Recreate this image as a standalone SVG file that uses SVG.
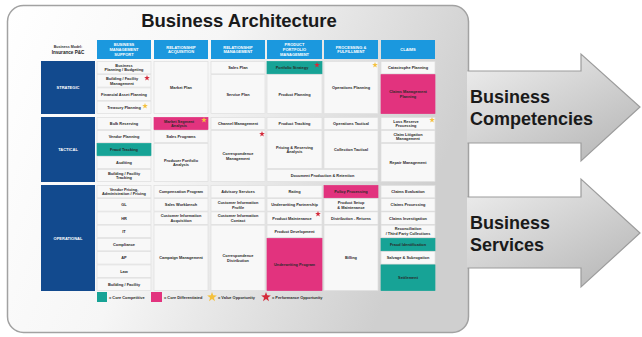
<svg xmlns="http://www.w3.org/2000/svg" xmlns:xlink="http://www.w3.org/1999/xlink" width="642" height="337" viewBox="0 0 642 337">
<defs>
<linearGradient id="panelG" x1="0" y1="0" x2="1" y2="0.3">
<stop offset="0" stop-color="#ffffff"/>
<stop offset="0.45" stop-color="#f6f6f6"/>
<stop offset="1" stop-color="#cfcfcf"/>
</linearGradient>
<linearGradient id="arrowG" x1="0" y1="0" x2="0.8" y2="1">
<stop offset="0" stop-color="#efefef"/>
<stop offset="1" stop-color="#b9b9b9"/>
</linearGradient>
<polygon id="star" points="0,-3 0.71,-0.97 2.85,-0.93 1.14,0.37 1.76,2.43 0,1.2 -1.76,2.43 -1.14,0.37 -2.85,-0.93 -0.71,-0.97"/>
</defs>
<style>
text{font-family:"Liberation Sans",Arial,sans-serif;}
.cell rect{fill:#f8f8f8;stroke:#dedede;stroke-width:0.7;}
.cell text{font-size:3.9px;font-weight:bold;fill:#2a2a2a;text-anchor:middle;}
.cell rect.teal{fill:#17a396;stroke:#17a396;}
.cell rect.pink{fill:#e2337e;stroke:#e2337e;}
.hdr rect{fill:#1b98de;}
.hdr text{font-size:4px;font-weight:bold;fill:#ffffff;text-anchor:middle;}
.lvl rect{fill:#124a8e;}
.lvl text{font-size:4px;font-weight:bold;fill:#ffffff;text-anchor:middle;}
.ys{fill:#f4c13e;}
.rs{fill:#d42a3a;}
.leg text{font-size:3.9px;font-weight:bold;fill:#2a2a2a;}
.big{font-size:18px;font-weight:bold;fill:#1a1a1a;}
.arr{fill:url(#arrowG);}
.arrEdge{fill:none;stroke:#9c9c9c;stroke-width:1.2;stroke-linejoin:miter;}
</style>

<g id="panel">
<rect x="7.5" y="5.5" width="461" height="327" rx="16" fill="url(#panelG)" stroke="#a2a2a2" stroke-width="1.5"/>
<text x="239" y="27" text-anchor="middle" font-size="18.5" font-weight="bold" fill="#1a1a1a">Business Architecture</text>
</g>

<g id="arrows">
<g id="arrow-competencies">
<polygon class="arr" points="467,71 581,71 581,54 640,107 581,161 581,143 467,143"/>
<polyline class="arrEdge" points="467.5,71 581,71 581,54 640,107 581,161 581,143 467.5,143"/>
<text class="big" x="470" y="103">Business</text>
<text class="big" x="470" y="125">Competencies</text>
</g>
<g id="arrow-services">
<polygon class="arr" points="467,197 581,197 581,179 640,233 581,287 581,268 467,268"/>
<polyline class="arrEdge" points="467.5,197 581,197 581,179 640,233 581,287 581,268 467.5,268"/>
<text class="big" x="470" y="229">Business</text>
<text class="big" x="470" y="251">Services</text>
</g>
</g>

<g id="model-label">
<text x="68" y="48" text-anchor="middle" font-size="3.6" font-weight="bold" fill="#333">Business Model:</text>
<text x="68" y="53.5" text-anchor="middle" font-size="4.6" font-weight="bold" fill="#222">Insurance P&amp;C</text>
</g>

<g id="headers">
<g id="h1" class="hdr"><rect x="97" y="40" width="54" height="19"/><text x="124" y="46.1">BUSINESS</text><text x="124" y="50.9">MANAGEMENT</text><text x="124" y="55.7">SUPPORT</text></g>
<g id="h2" class="hdr"><rect x="154" y="40" width="54" height="19"/><text x="181" y="48.5">RELATIONSHIP</text><text x="181" y="53.3">ACQUISITION</text></g>
<g id="h3" class="hdr"><rect x="211" y="40" width="54" height="19"/><text x="238" y="48.5">RELATIONSHIP</text><text x="238" y="53.3">MANAGEMENT</text></g>
<g id="h4" class="hdr"><rect x="267" y="40" width="55" height="19"/><text x="294.5" y="46.1">PRODUCT</text><text x="294.5" y="50.9">PORTFOLIO</text><text x="294.5" y="55.7">MANAGEMENT</text></g>
<g id="h5" class="hdr"><rect x="324" y="40" width="54" height="19"/><text x="351" y="48.5">PROCESSING &amp;</text><text x="351" y="53.3">FULFILLMENT</text></g>
<g id="h6" class="hdr"><rect x="381" y="40" width="54" height="19"/><text x="408" y="51">CLAIMS</text></g>
</g>

<g id="levels">
<g id="lvl-strategic" class="lvl"><rect x="41" y="61" width="54" height="53"/><text x="68" y="89">STRATEGIC</text></g>
<g id="lvl-tactical" class="lvl"><rect x="41" y="117" width="54" height="65"/><text x="68" y="151">TACTICAL</text></g>
<g id="lvl-operational" class="lvl"><rect x="41" y="185" width="54" height="106"/><text x="68" y="239.5">OPERATIONAL</text></g>
</g>

<g id="col1">
<g id="c1r0" class="cell"><rect x="97" y="61.4" width="54" height="12.45"/><text x="124" y="66.73">Business</text><text x="124" y="71.33">Planning / Budgeting</text></g>
<g id="c1r1" class="cell"><rect x="97" y="74.65" width="54" height="12.45"/><text x="122" y="79.98">Building / Facility</text><text x="122" y="84.58">Management</text></g>
<g id="c1r2" class="cell"><rect x="97" y="87.9" width="54" height="12.45"/><text x="124" y="95.53">Financial Asset Planning</text></g>
<g id="c1r3" class="cell"><rect x="97" y="101.15" width="54" height="12.45"/><text x="124" y="108.78">Treasury Planning</text></g>
<g id="c1r4" class="cell"><rect x="97" y="117.4" width="54" height="12.2"/><text x="124" y="124.9">Bulk Reserving</text></g>
<g id="c1r5" class="cell"><rect x="97" y="130.4" width="54" height="12.2"/><text x="124" y="137.9">Vendor Planning</text></g>
<g id="c1r6" class="cell"><rect class="teal" x="97" y="143.4" width="54" height="12.2"/><text x="124" y="150.9">Fraud Tracking</text></g>
<g id="c1r7" class="cell"><rect x="97" y="156.4" width="54" height="12.2"/><text x="124" y="163.9">Auditing</text></g>
<g id="c1r8" class="cell"><rect x="97" y="169.4" width="54" height="12.2"/><text x="124" y="174.6">Building / Facility</text><text x="124" y="179.2">Tracking</text></g>
<g id="c1r9" class="cell"><rect x="97" y="185.4" width="54" height="12.45"/><text x="124" y="190.73">Vendor Pricing,</text><text x="124" y="195.33">Administration / Pricing</text></g>
<g id="c1r10" class="cell"><rect x="97" y="198.65" width="54" height="12.45"/><text x="124" y="206.28">GL</text></g>
<g id="c1r11" class="cell"><rect x="97" y="211.9" width="54" height="12.45"/><text x="124" y="219.53">HR</text></g>
<g id="c1r12" class="cell"><rect x="97" y="225.15" width="54" height="12.45"/><text x="124" y="232.78">IT</text></g>
<g id="c1r13" class="cell"><rect x="97" y="238.4" width="54" height="12.45"/><text x="124" y="246.03">Compliance</text></g>
<g id="c1r14" class="cell"><rect x="97" y="251.65" width="54" height="12.45"/><text x="124" y="259.28">AP</text></g>
<g id="c1r15" class="cell"><rect x="97" y="264.9" width="54" height="12.45"/><text x="124" y="272.53">Law</text></g>
<g id="c1r16" class="cell"><rect x="97" y="278.15" width="54" height="12.45"/><text x="124" y="285.78">Building / Facility</text></g>
</g>

<g id="col2">
<g id="c2r0" class="cell"><rect x="154" y="61.4" width="54" height="52.2"/><text x="181" y="88.9">Market Plan</text></g>
<g id="c2r4" class="cell"><rect class="pink" x="154" y="117.4" width="54" height="12.2"/><text x="179" y="122.6">Market Segment</text><text x="179" y="127.2">Analysis</text></g>
<g id="c2r5" class="cell"><rect x="154" y="130.4" width="54" height="12.2"/><text x="181" y="137.9">Sales Programs</text></g>
<g id="c2r6" class="cell"><rect x="154" y="143.4" width="54" height="38.2"/><text x="181" y="161.6">Producer Portfolio</text><text x="181" y="166.2">Analysis</text></g>
<g id="c2r9" class="cell"><rect x="154" y="185.4" width="54" height="12.45"/><text x="181" y="193.03">Compensation Program</text></g>
<g id="c2r10" class="cell"><rect x="154" y="198.65" width="54" height="12.45"/><text x="181" y="206.28">Sales Workbench</text></g>
<g id="c2r11" class="cell"><rect x="154" y="211.9" width="54" height="12.45"/><text x="181" y="217.23">Customer Information</text><text x="181" y="221.83">Acquisition</text></g>
<g id="c2r12" class="cell"><rect x="154" y="225.15" width="54" height="65.45"/><text x="181" y="259.28">Campaign Management</text></g>
</g>

<g id="col3">
<g id="c3r0" class="cell"><rect x="211" y="61.4" width="54" height="12.45"/><text x="238" y="69.03">Sales Plan</text></g>
<g id="c3r1" class="cell"><rect x="211" y="74.65" width="54" height="38.95"/><text x="238" y="95.53">Service Plan</text></g>
<g id="c3r4" class="cell"><rect x="211" y="117.4" width="54" height="12.2"/><text x="238" y="124.9">Channel Management</text></g>
<g id="c3r5" class="cell"><rect x="211" y="130.4" width="54" height="51.2"/><text x="238" y="155.1">Correspondence</text><text x="238" y="159.7">Management</text></g>
<g id="c3r9" class="cell"><rect x="211" y="185.4" width="54" height="12.45"/><text x="238" y="193.03">Advisory Services</text></g>
<g id="c3r10" class="cell"><rect x="211" y="198.65" width="54" height="12.45"/><text x="238" y="203.98">Customer Information</text><text x="238" y="208.58">Profile</text></g>
<g id="c3r11" class="cell"><rect x="211" y="211.9" width="54" height="12.45"/><text x="238" y="217.23">Customer Information</text><text x="238" y="221.83">Contact</text></g>
<g id="c3r12" class="cell"><rect x="211" y="225.15" width="54" height="65.45"/><text x="238" y="256.98">Correspondence</text><text x="238" y="261.58">Distribution</text></g>
</g>

<g id="col4">
<g id="c4r0" class="cell"><rect class="teal" x="267" y="61.4" width="55" height="12.45"/><text x="292" y="69.03">Portfolio Strategy</text></g>
<g id="c4r1" class="cell"><rect x="267" y="74.65" width="55" height="38.95"/><text x="294.5" y="95.53">Product Planning</text></g>
<g id="c4r4" class="cell"><rect x="267" y="117.4" width="55" height="12.2"/><text x="294.5" y="124.9">Product Tracking</text></g>
<g id="c4r5" class="cell"><rect x="267" y="130.4" width="55" height="38.2"/><text x="294.5" y="148.6">Pricing &amp; Reserving</text><text x="294.5" y="153.2">Analysis</text></g>
<g id="c45r8" class="cell"><rect x="267" y="169.4" width="111" height="12.2"/><text x="322.5" y="176.9">Document Production &amp; Retention</text></g>
<g id="c4r9" class="cell"><rect x="267" y="185.4" width="55" height="12.45"/><text x="294.5" y="193.03">Rating</text></g>
<g id="c4r10" class="cell"><rect x="267" y="198.65" width="55" height="12.45"/><text x="294.5" y="206.28">Underwriting Partnership</text></g>
<g id="c4r11" class="cell"><rect x="267" y="211.9" width="55" height="12.45"/><text x="292" y="219.53">Product Maintenance</text></g>
<g id="c4r12" class="cell"><rect x="267" y="225.15" width="55" height="12.45"/><text x="294.5" y="232.78">Product Development</text></g>
<g id="c4r13" class="cell"><rect class="pink" x="267" y="238.4" width="55" height="52.2"/><text x="294.5" y="265.9">Underwriting Program</text></g>
</g>

<g id="col5">
<g id="c5r0" class="cell"><rect x="324" y="61.4" width="54" height="52.2"/><text x="351" y="88.9">Operations Planning</text></g>
<g id="c5r4" class="cell"><rect x="324" y="117.4" width="54" height="12.2"/><text x="351" y="124.9">Operations Tactical</text></g>
<g id="c5r5" class="cell"><rect x="324" y="130.4" width="54" height="38.2"/><text x="351" y="150.9">Collection Tactical</text></g>
<g id="c5r9" class="cell"><rect class="pink" x="324" y="185.4" width="54" height="12.45"/><text x="351" y="193.03">Policy Processing</text></g>
<g id="c5r10" class="cell"><rect x="324" y="198.65" width="54" height="12.45"/><text x="351" y="203.98">Product Setup</text><text x="351" y="208.58">&amp; Maintenance</text></g>
<g id="c5r11" class="cell"><rect x="324" y="211.9" width="54" height="12.45"/><text x="351" y="219.53">Distribution - Returns</text></g>
<g id="c5r12" class="cell"><rect x="324" y="225.15" width="54" height="65.45"/><text x="351" y="259.28">Billing</text></g>
</g>

<g id="col6">
<g id="c6r0" class="cell"><rect x="381" y="61.4" width="54" height="12.45"/><text x="408" y="69.03">Catastrophe Planning</text></g>
<g id="c6r1" class="cell"><rect class="pink" x="381" y="74.65" width="54" height="38.95"/><text x="408" y="93.23">Claims Management</text><text x="408" y="97.83">Planning</text></g>
<g id="c6r4" class="cell"><rect x="381" y="117.4" width="54" height="12.2"/><text x="406" y="122.6">Loss Reserve</text><text x="406" y="127.2">Processing</text></g>
<g id="c6r5" class="cell"><rect x="381" y="130.4" width="54" height="12.2"/><text x="408" y="135.6">Claim Litigation</text><text x="408" y="140.2">Management</text></g>
<g id="c6r6" class="cell"><rect x="381" y="143.4" width="54" height="38.2"/><text x="408" y="163.9">Repair Management</text></g>
<g id="c6r9" class="cell"><rect x="381" y="185.4" width="54" height="12.45"/><text x="408" y="193.03">Claims Evaluation</text></g>
<g id="c6r10" class="cell"><rect x="381" y="198.65" width="54" height="12.45"/><text x="408" y="206.28">Claims Processing</text></g>
<g id="c6r11" class="cell"><rect x="381" y="211.9" width="54" height="12.45"/><text x="408" y="219.53">Claims Investigation</text></g>
<g id="c6r12" class="cell"><rect x="381" y="225.15" width="54" height="12.45"/><text x="408" y="230.48">Reconciliation</text><text x="408" y="235.08">/ Third Party Collections</text></g>
<g id="c6r13" class="cell"><rect class="teal" x="381" y="238.4" width="54" height="12.45"/><text x="408" y="246.03">Fraud Identification</text></g>
<g id="c6r14" class="cell"><rect x="381" y="251.65" width="54" height="12.45"/><text x="408" y="259.28">Salvage &amp; Subrogation</text></g>
<g id="c6r15" class="cell"><rect class="teal" x="381" y="264.9" width="54" height="25.7"/><text x="408" y="279.15">Settlement</text></g>
</g>

<g id="markers">
<use xlink:href="#star" href="#star" class="rs" transform="translate(147,78)"/>
<use xlink:href="#star" href="#star" class="ys" transform="translate(145,106)"/>
<use xlink:href="#star" href="#star" class="ys" transform="translate(204,120)"/>
<use xlink:href="#star" href="#star" class="rs" transform="translate(262,134)"/>
<use xlink:href="#star" href="#star" class="rs" transform="translate(317,65)"/>
<use xlink:href="#star" href="#star" class="ys" transform="translate(375,65)"/>
<use xlink:href="#star" href="#star" class="ys" transform="translate(432,120)"/>
<use xlink:href="#star" href="#star" class="rs" transform="translate(318,214)"/>
</g>

<g id="legend" class="leg">
<rect x="97" y="292" width="10" height="10" fill="#17a396"/>
<text x="109" y="298.5">= Core Competitive</text>
<rect x="151" y="292" width="11" height="10" fill="#e2337e"/>
<text x="164" y="298.5">= Core Differentiated</text>
<use xlink:href="#star" href="#star" class="ys" transform="translate(212,297) scale(1.7)"/>
<text x="218" y="298.5">= Value Opportunity</text>
<use xlink:href="#star" href="#star" class="rs" transform="translate(266,297) scale(1.7)"/>
<text x="272" y="298.5">= Performance Opportunity</text>
</g>
</svg>
